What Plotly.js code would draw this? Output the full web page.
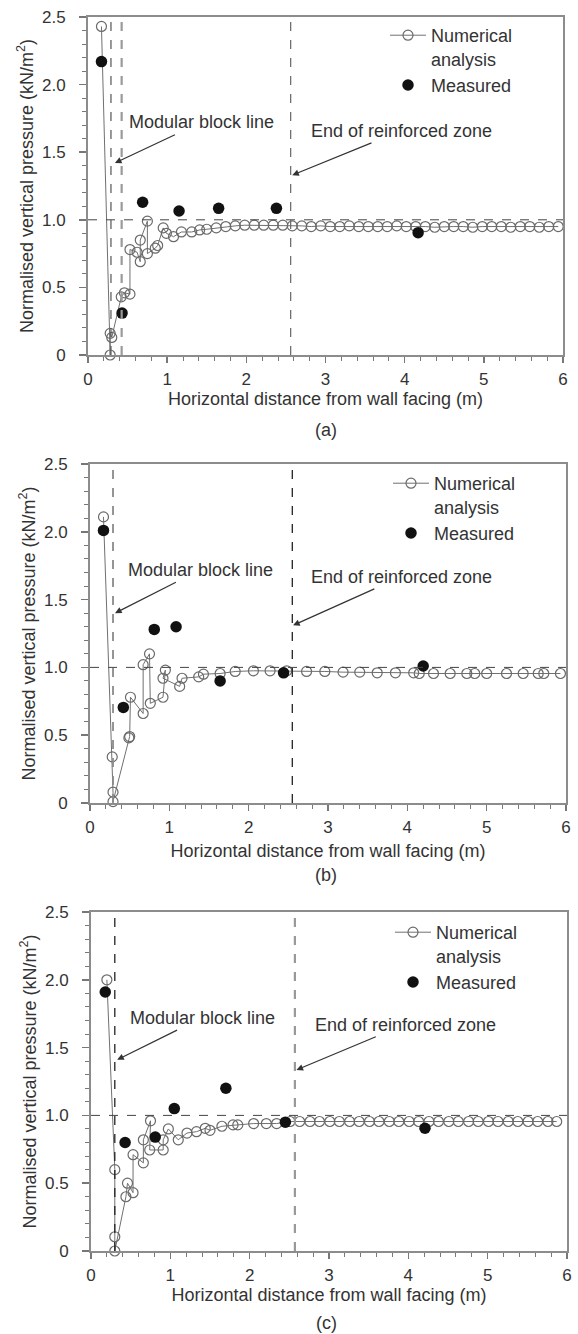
<!DOCTYPE html>
<html>
<head>
<meta charset="utf-8">
<script src="https://cdn.plot.ly/plotly-3.0.1.min.js"></script>
<style>
  html, body { margin: 0; padding: 0; background: #fff; }
  #chart { width: 578px; height: 1334px; }
</style>
</head>
<body>
<div id="chart"></div>
<script>
// ---- Panel (a): numerical analysis ----
const numXA = [0.17, 0.28, 0.28, 0.30, 0.42, 0.46, 0.53, 0.53, 0.62, 0.66,
               0.66, 0.75, 0.75, 0.85, 0.88, 0.95, 0.99, 1.08, 1.18, 1.31,
               1.41, 1.50, 1.62, 1.74, 1.86, 1.98, 2.10, 2.22, 2.34, 2.46,
               2.58, 2.70, 2.82, 2.94, 3.06, 3.18, 3.30, 3.42, 3.54, 3.66,
               3.78, 3.90, 4.02, 4.14, 4.26, 4.38, 4.50, 4.62, 4.74, 4.86,
               4.98, 5.10, 5.22, 5.34, 5.46, 5.58, 5.70, 5.82, 5.94];
const numYA = [2.43, 0.00, 0.16, 0.13, 0.43, 0.46, 0.45, 0.78, 0.76, 0.69,
               0.85, 0.99, 0.75, 0.79, 0.81, 0.94, 0.90, 0.875, 0.91, 0.91,
               0.925, 0.93, 0.94, 0.95, 0.955, 0.96, 0.96, 0.96, 0.96, 0.96,
               0.955, 0.955, 0.95, 0.955, 0.95, 0.95, 0.955, 0.95, 0.95, 0.95,
               0.95, 0.955, 0.95, 0.95, 0.95, 0.945, 0.95, 0.95, 0.95, 0.945,
               0.95, 0.95, 0.95, 0.945, 0.95, 0.95, 0.945, 0.95, 0.95];
// ---- Panel (a): measured ----
const measXA = [0.17, 0.43, 0.69, 1.15, 1.65, 2.38, 4.17];
const measYA = [2.17, 0.31, 1.13, 1.065, 1.085, 1.085, 0.905];

// ---- Panel (b): numerical analysis ----
const numXB = [0.17, 0.28, 0.29, 0.29, 0.49, 0.50, 0.51, 0.67, 0.67, 0.75,
               0.76, 0.92, 0.95, 0.92, 1.13, 1.16, 1.37, 1.43, 1.64, 1.83,
               2.06, 2.27, 2.48, 2.73, 2.96, 3.19, 3.40, 3.62, 3.85, 4.08,
               4.15, 4.33, 4.54, 4.75, 4.85, 5.00, 5.25, 5.46, 5.65, 5.72,
               5.93];
const numYB = [2.11, 0.34, 0.08, 0.01, 0.48, 0.49, 0.78, 0.66, 1.02, 1.10,
               0.735, 0.78, 0.98, 0.92, 0.86, 0.92, 0.93, 0.95, 0.955, 0.97,
               0.975, 0.975, 0.975, 0.97, 0.97, 0.965, 0.965, 0.96, 0.96, 0.96,
               0.955, 0.955, 0.955, 0.955, 0.955, 0.955, 0.955, 0.955, 0.955, 0.955,
               0.955];
// ---- Panel (b): measured ----
const measXB = [0.17, 0.42, 0.81, 1.085, 1.64, 2.44, 4.20];
const measYB = [2.01, 0.705, 1.28, 1.30, 0.90, 0.96, 1.01];

// ---- Panel (c): numerical analysis ----
const numXC = [0.20, 0.30, 0.30, 0.30, 0.44, 0.46, 0.53, 0.53, 0.66, 0.66,
               0.75, 0.74, 0.91, 0.91, 0.975, 1.10, 1.21, 1.33, 1.44, 1.50,
               1.65, 1.79, 1.85, 2.05, 2.21, 2.34, 2.51, 2.63, 2.76, 2.88,
               3.01, 3.13, 3.26, 3.38, 3.51, 3.63, 3.76, 3.88, 4.01, 4.13,
               4.26, 4.38, 4.51, 4.63, 4.76, 4.88, 5.01, 5.13, 5.26, 5.38,
               5.51, 5.63, 5.76, 5.87];
const numYC = [2.00, 0.60, 0.105, 0.00, 0.40, 0.50, 0.43, 0.71, 0.65, 0.82,
               0.96, 0.745, 0.745, 0.82, 0.90, 0.82, 0.87, 0.88, 0.905, 0.89,
               0.92, 0.93, 0.93, 0.94, 0.94, 0.94, 0.955, 0.955, 0.955, 0.955,
               0.955, 0.955, 0.955, 0.955, 0.955, 0.955, 0.955, 0.955, 0.955, 0.955,
               0.955, 0.955, 0.955, 0.955, 0.955, 0.955, 0.955, 0.955, 0.955, 0.955,
               0.955, 0.955, 0.955, 0.955];
// ---- Panel (c): measured ----
const measXC = [0.18, 0.43, 0.81, 1.05, 1.70, 2.45, 4.21];
const measYC = [1.91, 0.80, 0.84, 1.05, 1.20, 0.95, 0.905];

// ---- Reference positions (m) and tick labels ----
const blockLineA = [0.29, 0.425];
const blockLineB = [0.29];
const blockLineC = [0.30];
const reinforcedEnd = [2.56, 2.55, 2.57];
const referenceLevel = 1.0;

const yTickVals = [0, 0.5, 1, 1.5, 2, 2.5];
const yTickText = ['0', '0.5', '1.0', '1.5', '2.0', '2.5'];
const xTickVals = [0, 1, 2, 3, 4, 5, 6];
const xTickText = ['0', '1', '2', '3', '4', '5', '6'];

const seriesNames = ['Numerical<br>analysis', 'Measured'];
const panelLabels = ['(a)', '(b)', '(c)'];
const xTitle = 'Horizontal distance from wall facing (m)';
const yTitle = 'Normalised vertical pressure (kN/m<sup>2</sup>)';
const blockText = 'Modular block line';
const endText = 'End of reinforced zone';

// ---- Styling ----
const FONT = 'Liberation Sans, Arial, Helvetica, sans-serif';
const TEXT = '#333';
const FS = 18;      // titles, callouts, legend
const TICK_FS = 17; // tick labels
const W = 578, H = 1334;
const px = v => v / W;
const py = v => (H - v) / H;

// pixel frame of each panel: left, right, top, bottom
const frames = [
  {l: 88, r: 563, t: 17,  b: 355, xStand: 3,  label: 430, legX: 385, legTop: 17},
  {l: 90, r: 566, t: 464, b: 803, xStand: 8, label: 875, legX: 388, legTop: 465},
  {l: 91, r: 567, t: 912, b: 1251, xStand: 0, label: 1323, legX: 390, legTop: 914}
];

const panelData = [
  {nx: numXA, ny: numYA, mx: measXA, my: measYA,
   blocks: blockLineA, blockStyle: [{c: '#555', w: 1.2}, {c: '#9a9a9a', w: 2.2}],
   endStyle: {c: '#666', w: 1.2},
   txtBlock: [1.43, 1.72], headBlock: [0.34, 1.42],
   txtEnd: [3.96, 1.66], headEnd: [2.58, 1.33]},
  {nx: numXB, ny: numYB, mx: measXB, my: measYB,
   blocks: blockLineB, blockStyle: [{c: '#8a8a8a', w: 1.8}],
   endStyle: {c: '#222', w: 1.3},
   txtBlock: [1.39, 1.72], headBlock: [0.315, 1.40],
   txtEnd: [3.93, 1.67], headEnd: [2.56, 1.31]},
  {nx: numXC, ny: numYC, mx: measXC, my: measYC,
   blocks: blockLineC, blockStyle: [{c: '#222', w: 1.3}],
   endStyle: {c: '#999', w: 2.2},
   txtBlock: [1.40, 1.72], headBlock: [0.33, 1.41],
   txtEnd: [3.96, 1.67], headEnd: [2.59, 1.335]}
];

const traces = [];
const shapes = [];
const annotations = [];
const layout = {
  width: W, height: H,
  margin: {l: 0, r: 0, t: 0, b: 0},
  paper_bgcolor: '#fff', plot_bgcolor: '#fff',
  font: {family: FONT, size: FS, color: TEXT},
  showlegend: true
};

panelData.forEach((p, i) => {
  const f = frames[i];
  const n = i === 0 ? '' : String(i + 1);
  const xa = 'x' + n, ya = 'y' + n;
  const legendId = 'legend' + n;

  traces.push({
    x: p.nx, y: p.ny, xaxis: xa, yaxis: ya, type: 'scatter', mode: 'lines+markers',
    name: seriesNames[0], legend: legendId, cliponaxis: false,
    line: {color: '#707070', width: 1},
    marker: {symbol: 'circle-open', size: 10, color: '#6a6a6a', line: {width: 1.2}}
  });
  traces.push({
    x: p.mx, y: p.my, xaxis: xa, yaxis: ya, type: 'scatter', mode: 'markers',
    name: seriesNames[1], legend: legendId, cliponaxis: false,
    marker: {symbol: 'circle', size: 11.5, color: '#111'}
  });

  layout['xaxis' + n] = {
    domain: [px(f.l), px(f.r)], anchor: ya, range: [0, 6],
    tickmode: 'array', tickvals: xTickVals, ticktext: xTickText,
    ticks: 'outside', ticklen: 6, tickwidth: 1.5, tickcolor: '#777',
    minor: {tick0: 0, dtick: 0.2, ticks: 'outside', ticklen: 4, tickwidth: 1, tickcolor: '#777'},
    showline: true, linecolor: '#8c8c8c', linewidth: 2, mirror: true,
    showgrid: false, zeroline: false, ticklabelstandoff: 2,
    tickfont: {family: FONT, size: TICK_FS, color: TEXT},
    title: {text: xTitle, font: {family: FONT, size: FS, color: TEXT}, standoff: f.xStand}
  };
  layout['yaxis' + n] = {
    domain: [py(f.b), py(f.t)], anchor: xa, range: [0, 2.5],
    tickmode: 'array', tickvals: yTickVals, ticktext: yTickText,
    ticks: 'outside', ticklen: 7, tickwidth: 1.5, tickcolor: '#777',
    minor: {tick0: 0, dtick: 0.1, ticks: 'outside', ticklen: 4, tickwidth: 1, tickcolor: '#777'},
    showline: true, linecolor: '#8c8c8c', linewidth: 2, mirror: true,
    showgrid: false, zeroline: false, ticklabelstandoff: 10,
    tickfont: {family: FONT, size: TICK_FS, color: TEXT},
    title: {text: yTitle, font: {family: FONT, size: FS, color: TEXT}, standoff: 4}
  };
  layout[legendId] = {
    x: px(f.legX), y: py(f.legTop), xanchor: 'left', yanchor: 'top',
    xref: 'paper', yref: 'paper', bgcolor: 'rgba(0,0,0,0)', borderwidth: 0,
    valign: 'top', itemwidth: 36, font: {family: FONT, size: FS, color: TEXT}
  };

  // reference level at 1.0
  shapes.push({type: 'line', xref: xa, yref: ya, x0: 0, x1: 6, y0: referenceLevel, y1: referenceLevel,
               line: {color: '#444', width: 1, dash: 'dash'}});
  // modular block line(s)
  p.blocks.forEach((bx, k) => {
    shapes.push({type: 'line', xref: xa, yref: ya, x0: bx, x1: bx, y0: 0, y1: 2.5,
                 line: {color: p.blockStyle[k].c, width: p.blockStyle[k].w, dash: 'dash'}});
  });
  // end of reinforced zone
  shapes.push({type: 'line', xref: xa, yref: ya, x0: reinforcedEnd[i], x1: reinforcedEnd[i], y0: 0, y1: 2.5,
               line: {color: p.endStyle.c, width: p.endStyle.w, dash: 'dash'}});

  // callouts: text sits at the arrow tail, arrow head points at the line
  annotations.push({xref: xa, yref: ya, axref: xa, ayref: ya,
                    x: p.headBlock[0], y: p.headBlock[1], ax: p.txtBlock[0], ay: p.txtBlock[1],
                    text: blockText, showarrow: true, arrowhead: 2, arrowsize: 1.1, arrowwidth: 1.2,
                    arrowcolor: '#333', startstandoff: 2, font: {family: FONT, size: FS, color: TEXT}});
  annotations.push({xref: xa, yref: ya, axref: xa, ayref: ya,
                    x: p.headEnd[0], y: p.headEnd[1], ax: p.txtEnd[0], ay: p.txtEnd[1],
                    text: endText, showarrow: true, arrowhead: 2, arrowsize: 1.1, arrowwidth: 1.2,
                    arrowcolor: '#333', startstandoff: 2, font: {family: FONT, size: FS, color: TEXT}});
  // panel letter
  annotations.push({xref: 'paper', yref: 'paper', x: px(326), y: py(f.label), text: panelLabels[i],
                    showarrow: false, xanchor: 'center', yanchor: 'middle',
                    font: {family: FONT, size: FS, color: TEXT}});
});

layout.shapes = shapes;
layout.annotations = annotations;

Plotly.newPlot('chart', traces, layout, {displayModeBar: false, staticPlot: true});
</script>
</body>
</html>
